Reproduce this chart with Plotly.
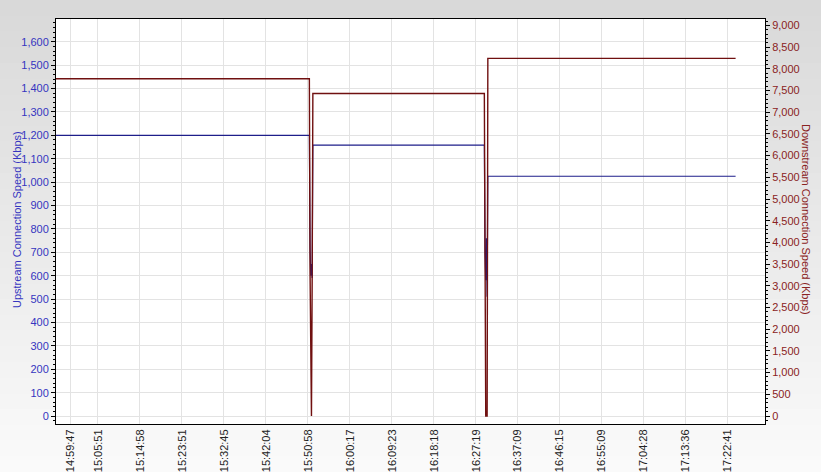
import plotly.graph_objects as go

sample = [-20, 342, 343, 344, 345, 346, 347, 592, 593, 594, 595, 596, 597, 951]
upstream_kbps = [1200, 1200, 720, 600, 650, 590, 1158, 1158, 690, 580, 760, 510, 1025, 1025]
downstream_kbps = [7770, 7770, 3300, 0, 0, 3100, 7430, 7430, 0, 0, 0, 0, 8240, 8240]

tick_samples = [0, 40, 100, 160, 220, 280, 340, 400, 460, 520, 580, 640, 700, 760, 820, 880, 940]
tick_labels = ["14:59:47", "15:05:51", "15:14:58", "15:23:51", "15:32:45", "15:42:04",
               "15:50:58", "16:00:17", "16:09:23", "16:18:18", "16:27:19", "16:37:09",
               "16:46:15", "16:55:09", "17:04:28", "17:13:36", "17:22:41"]

BLUE_TXT = "#3535c0"
RED_TXT = "#8a2222"
FONT = "Liberation Sans, Arial, sans-serif"

W, H = 821, 472
ML, MR, MT, MB = 56, 56, 19, 48
PW, PH = W - ML - MR, H - MT - MB

fig = go.Figure()
fig.add_trace(go.Scatter(x=sample, y=upstream_kbps, mode="lines",
                         line=dict(color="#1e1e8a", width=1.2),
                         name="Upstream", yaxis="y"))
fig.add_trace(go.Scatter(x=sample, y=downstream_kbps, mode="lines",
                         line=dict(color="#701010", width=1.4),
                         name="Downstream", yaxis="y2"))

# background gradient (light gray at top, nearly white at bottom)
shapes = []
n = 30
x0p, x1p = -ML / PW, 1 + MR / PW
ytop, ybot = 1 + MT / PH, -MB / PH
for i in range(n):
    t = i / (n - 1)
    c = int(round(0xd9 + (0xfa - 0xd9) * t))
    ya = ytop + (ybot - ytop) * i / n
    yb = ytop + (ybot - ytop) * (i + 1) / n
    shapes.append(dict(type="rect", xref="paper", yref="paper", layer="below",
                       x0=x0p, x1=x1p, y0=yb - 0.002, y1=ya,
                       fillcolor=f"rgb({c},{c},{c})", line=dict(width=0)))
shapes.append(dict(type="rect", xref="paper", yref="paper", layer="below",
                   x0=0, x1=1, y0=0, y1=1, fillcolor="#ffffff", line=dict(width=0)))

fig.update_layout(
    width=W, height=H,
    margin=dict(l=ML, r=MR, t=MT, b=MB),
    paper_bgcolor="#e9e9e9",
    plot_bgcolor="#ffffff",
    showlegend=False,
    font=dict(family=FONT, size=11, color="#222222"),
    shapes=shapes,
    xaxis=dict(
        range=[-20, 993],
        tickvals=tick_samples, ticktext=tick_labels,
        tickangle=-90,
        showgrid=True, gridcolor="#e3e3e3", gridwidth=1,
        zeroline=False, automargin=False,
        showline=True, linecolor="#000000", linewidth=1, mirror=True,
        ticks="",
        tickfont=dict(family=FONT, size=11, color="#222222"),
    ),
    yaxis=dict(
        range=[-34, 1697],
        tickvals=list(range(0, 1700, 100)),
        tickformat=",d",
        showgrid=True, gridcolor="#e3e3e3", gridwidth=1,
        zeroline=False, automargin=False,
        showline=True, linecolor="#000000", linewidth=1,
        ticks="outside", ticklen=4, tickcolor="#000000",
        minor=dict(dtick=20, ticks="outside", ticklen=2, tickcolor="#000000", showgrid=False),
        tickfont=dict(family=FONT, size=11, color=BLUE_TXT),
    ),
    yaxis2=dict(
        range=[-184, 9147],
        overlaying="y", side="right",
        tickvals=list(range(0, 9500, 500)),
        tickformat=",d",
        showgrid=False, zeroline=False, automargin=False,
        showline=True, linecolor="#000000", linewidth=1,
        ticks="outside", ticklen=4, tickcolor="#000000",
        minor=dict(dtick=100, ticks="outside", ticklen=2, tickcolor="#000000", showgrid=False),
        tickfont=dict(family=FONT, size=11, color=RED_TXT),
    ),
    annotations=[
        dict(text="Upstream Connection Speed (Kbps)", xref="paper", yref="paper",
             x=(17 - ML) / PW, y=(H - MB - 220) / PH, xanchor="center", yanchor="middle",
             textangle=-90, showarrow=False,
             font=dict(family=FONT, size=11, color=BLUE_TXT)),
        dict(text="Downstream Connection Speed (Kbps)", xref="paper", yref="paper",
             x=(806 - ML) / PW, y=(H - MB - 220) / PH, xanchor="center", yanchor="middle",
             textangle=90, showarrow=False,
             font=dict(family=FONT, size=11, color=RED_TXT)),
    ],
)

fig.write_html("out.html", config={"displayModeBar": False},
               post_script="document.body.style.margin='0';document.body.style.overflow='hidden';")
